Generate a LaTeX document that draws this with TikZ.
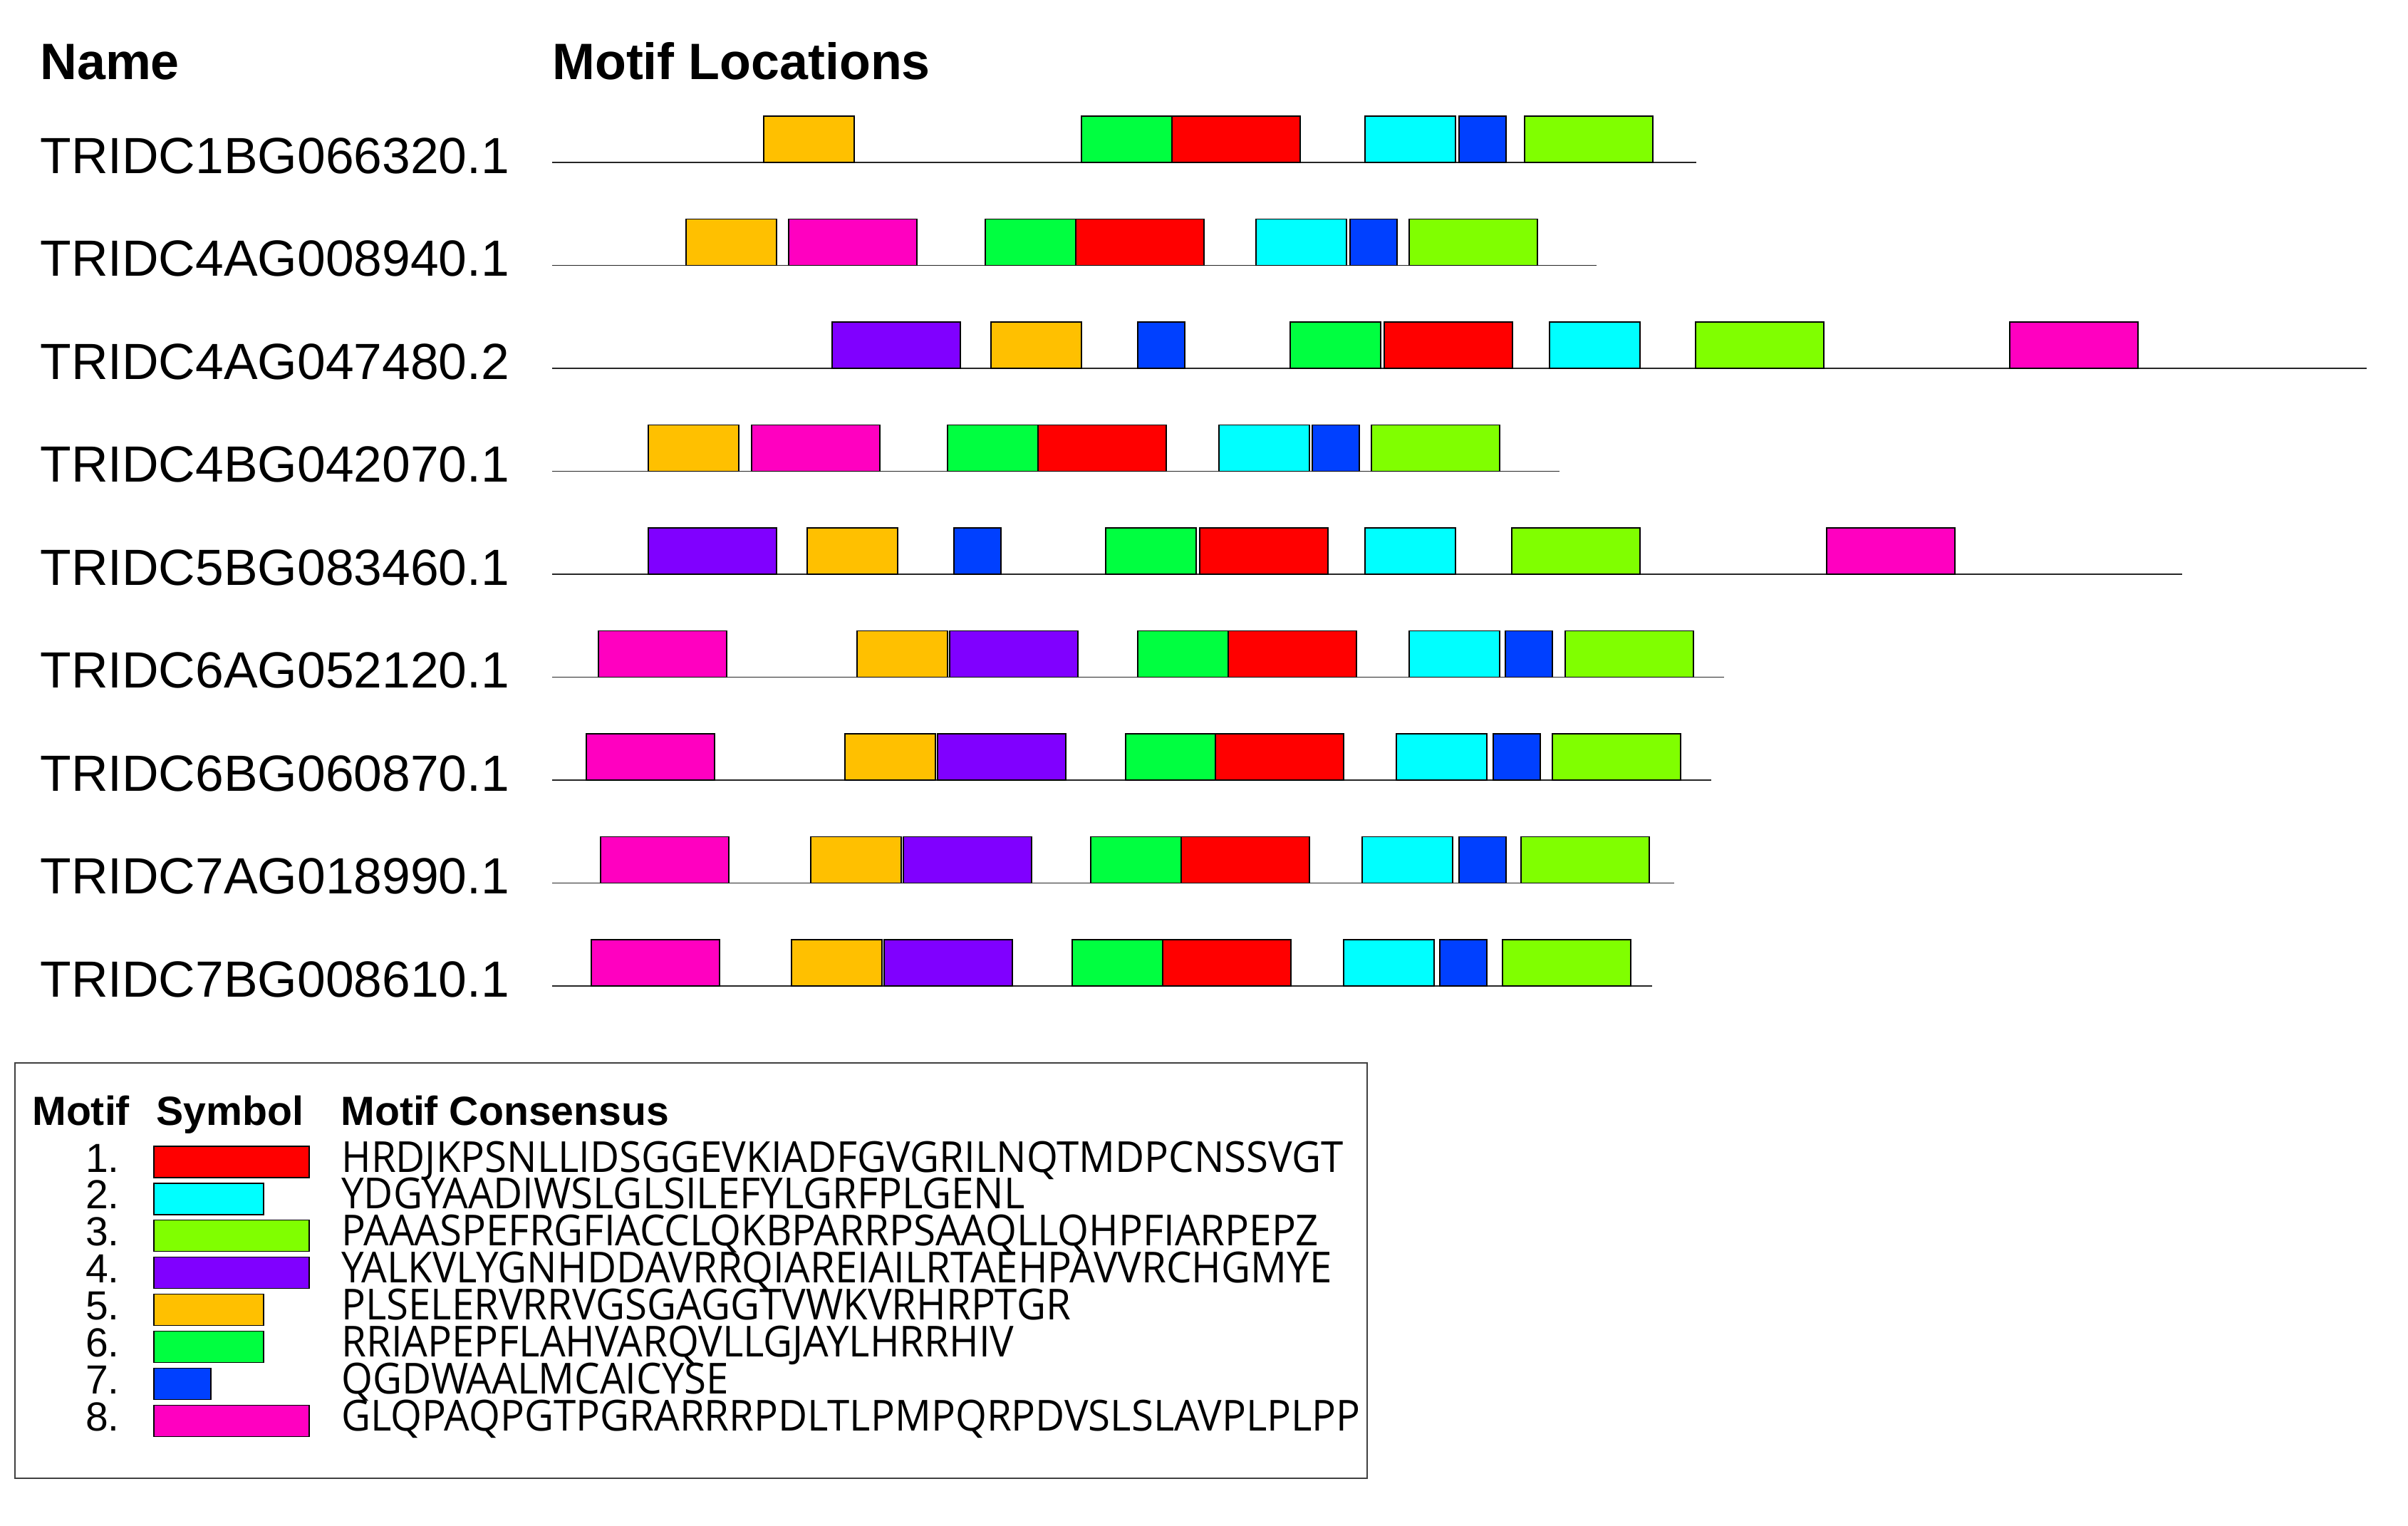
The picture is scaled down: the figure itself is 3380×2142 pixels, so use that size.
\documentclass[tikz,border=0pt]{standalone}
\usepackage{fontspec}
\setmainfont{Liberation Sans}
\newfontfamily\consfont{Open Sans}[FakeStretch=0.94]
\definecolor{m1}{RGB}{255,0,0}
\definecolor{m2}{RGB}{0,255,255}
\definecolor{m3}{RGB}{128,255,0}
\definecolor{m4}{RGB}{128,0,255}
\definecolor{m5}{RGB}{255,192,0}
\definecolor{m6}{RGB}{0,255,64}
\definecolor{m7}{RGB}{0,64,255}
\definecolor{m8}{RGB}{255,0,192}
\tikzset{
  track/.style={draw=black!85, line width=0.9pt},
  motifbox/.style={draw=black, line width=0.6pt},
  namelabel/.style={anchor=base west, inner sep=0pt, font=\fontsize{35.7}{40}\selectfont},
  headlabel/.style={anchor=base west, inner sep=0pt, font=\fontsize{35.9}{40}\selectfont\bfseries},
  leghead/.style={anchor=base west, inner sep=0pt, font=\fontsize{28.6}{32}\selectfont\bfseries},
  legnum/.style={anchor=base east, inner sep=0pt, font=\fontsize{28.5}{32}\selectfont},
  legcons/.style={anchor=base west, inner sep=0pt, font=\fontsize{30}{34}\selectfont\consfont},
  legframe/.style={draw=black!75, line width=1pt}
}
\newcommand\motifrow[3]{%
  \draw[track] (775,#1) -- (#2,#1);
  \foreach \c/\x in {#3} {
    \pgfmathsetmacro\w{{180,127,180,180,127,127,66,180}[\c-1]}
    \draw[motifbox, fill=m\c] (\x,#1-65) rectangle ++(\w,65);
  }
}
\begin{document}
\begin{tikzpicture}[x=0.5pt,y=-0.5pt]
\useasboundingbox (0,0) rectangle (3380,2142);
\fill[white] (0,0) rectangle (3380,2142);
\node[headlabel] (hname) at (56,111) {Name};
\node[headlabel] (hloc) at (775,111) {Motif Locations};
\foreach \r/\nm in {1/TRIDC1BG066320.1,2/TRIDC4AG008940.1,3/TRIDC4AG047480.2,4/TRIDC4BG042070.1,5/TRIDC5BG083460.1,6/TRIDC6AG052120.1,7/TRIDC6BG060870.1,8/TRIDC7AG018990.1,9/TRIDC7BG008610.1} {
  \pgfmathsetmacro\ly{228+144.5*(\r-1)}
  \node[namelabel] (n\r) at (56,\ly+15) {\nm};
}
\motifrow{228}{2381}{5/1072,6/1518,1/1645,2/1916,7/2048,3/2140}
\motifrow{372.5}{2241}{5/963,8/1107,6/1383,1/1510,2/1763,7/1895,3/1978}
\motifrow{517}{3322}{4/1168,5/1391,7/1597,6/1811,1/1943,2/2175,3/2380,8/2821}
\motifrow{661.5}{2189}{5/910,8/1055,6/1330,1/1457,2/1711,7/1842,3/1925}
\motifrow{806}{3063}{4/910,5/1133,7/1339,6/1552,1/1684,2/1916,3/2122,8/2564}
\motifrow{950.5}{2420}{8/840,5/1203,4/1333,6/1597,1/1724,2/1978,7/2113,3/2197}
\motifrow{1095}{2402}{8/823,5/1186,4/1316,6/1580,1/1706,2/1960,7/2096,3/2179}
\motifrow{1239.5}{2350}{8/843,5/1138,4/1268,6/1531,1/1658,2/1912,7/2048,3/2135}
\motifrow{1384}{2319}{8/830,5/1111,4/1241,6/1505,1/1632,2/1886,7/2021,3/2109}
% legend
\draw[legframe] (21,1492) rectangle (1919,2075);
\node[leghead] (lm) at (45,1579) {Motif};
\node[leghead] (ls) at (219,1579) {Symbol};
\node[leghead] (lc) at (478,1579) {Motif Consensus};
\foreach \i/\lw/\seq in {1/218/HRDJKPSNLLIDSGGEVKIADFGVGRILNQTMDPCNSSVGT,2/154/YDGYAADIWSLGLSILEFYLGRFPLGENL,3/218/PAAASPEFRGFIACCLQKBPARRPSAAQLLQHPFIARPEPZ,4/218/YALKVLYGNHDDAVRRQIAREIAILRTAEHPAVVRCHGMYE,5/154/PLSELERVRRVGSGAGGTVWKVRHRPTGR,6/154/RRIAPEPFLAHVARQVLLGJAYLHRRHIV,7/80/QGDWAALMCAICYSE,8/218/GLQPAQPGTPGRARRRPDLTLPMPQRPDVSLSLAVPLPLPP} {
  \pgfmathsetmacro\by{1645+51.9*(\i-1)}
  \node[legnum] (num\i) at (168,\by) {\i.};
  \draw[motifbox, fill=m\i] (216,\by-36) rectangle ++(\lw,44);
  \node[legcons] (cons\i) at (479,\by) {\seq};
}
\end{tikzpicture}
\end{document}
